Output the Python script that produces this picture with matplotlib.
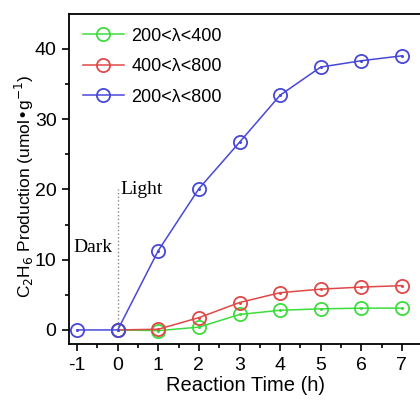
import matplotlib
matplotlib.use("Agg")
import matplotlib.pyplot as plt
from matplotlib.ticker import MultipleLocator

plt.rcParams['font.family'] = ['Liberation Sans', 'DejaVu Sans']
plt.rcParams['axes.unicode_minus'] = False

time_blue = [-1, 0, 1, 2, 3, 4, 5, 6, 7]
blue_200_800 = [0, 0, 11.3, 20.1, 26.7, 33.4, 37.4, 38.3, 39.0]
time_rg = [0, 1, 2, 3, 4, 5, 6, 7]
red_400_800 = [0, 0.1, 1.75, 3.9, 5.3, 5.8, 6.1, 6.3]
green_200_400 = [0, -0.1, 0.4, 2.2, 2.8, 3.0, 3.1, 3.1]
labels = ['200<λ<400', '400<λ<800', '200<λ<800']
xticks = [-1, 0, 1, 2, 3, 4, 5, 6, 7]
yticks = [0, 10, 20, 30, 40]

fig = plt.figure(figsize=(4.2, 4.03), dpi=100)
ax = fig.add_axes([69/420, 1-344/403, (421-69)/420, (344-14)/403])

c_green = '#3ddc3d'
c_red = '#e04848'
c_blue = '#4848d8'
ms = 9.5
series = [(time_rg, green_200_400, c_green, labels[0], 3),
          (time_rg, red_400_800, c_red, labels[1], 3),
          (time_blue, blue_200_800, c_blue, labels[2], 4)]
for xs, ys, c, lab, z in series:
    ax.plot(xs, ys, '-o', color=c, mfc='none', mec=c, ms=ms, lw=1.1, mew=1.3, label=lab, zorder=z)
    ax.plot(xs, ys, 'o', color=c, ms=1.2, zorder=z)

ax.plot([0, 0], [0, 20], linestyle=':', color='#888888', lw=1.0, zorder=2)
ax.text(0.07, 20, 'Light', family=['Liberation Serif'], fontsize=14, va='center', ha='left')
ax.text(-0.12, 11.7, 'Dark', family=['Liberation Serif'], fontsize=14, va='center', ha='right')

ax.set_xlim(-1.2, 7.47)
ax.set_ylim(-2.0, 44.95)
ax.set_xticks(xticks)
ax.set_yticks(yticks)
ax.xaxis.set_minor_locator(MultipleLocator(0.5))
ax.yaxis.set_minor_locator(MultipleLocator(5))
ax.tick_params(which='both', direction='out', labelsize=14, width=1.2)
ax.tick_params(which='major', length=5, pad=4)
ax.tick_params(which='minor', length=3)
ax.tick_params(top=False, right=False)
for s in ax.spines.values():
    s.set_linewidth(1.3)
ax.spines['right'].set_visible(False)

ax.set_xlabel('Reaction Time (h)', fontsize=14.5, labelpad=2)
ax.set_ylabel('C$_2$H$_6$ Production (umol•g$^{-1}$)', fontsize=12.5)
ax.yaxis.set_label_coords(-0.094, 0.477)

ax.legend(loc='upper left', frameon=False, fontsize=13, handlelength=2.3, borderaxespad=0.35,
          labelspacing=0.75, handletextpad=0.4, bbox_to_anchor=(0.0, 1.0))

fig.savefig('out.png', dpi=100)
